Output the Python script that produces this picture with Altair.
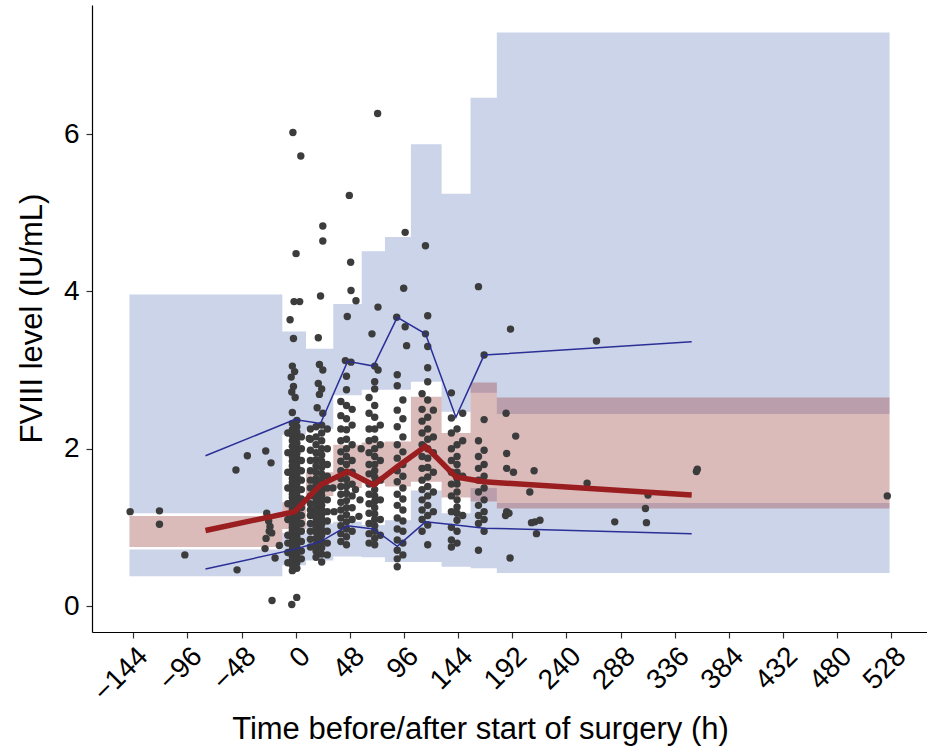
import altair as alt
import pandas as pd

# ---------------- simulated 95% CI bands (per time bin) ----------------
bin_edges = [-147.4, -11.9, 9.1, 33.3, 58.5, 79.1, 102.1, 129.3, 155.0, 178.3, 526.4]
sim_p05_lo = [0.38, 0.52, 0.58, 0.63, 0.62, 0.56, 0.56, 0.50, 0.48, 0.42]
sim_p05_hi = [0.72, 0.93, 1.05, 1.07, 1.03, 1.09, 1.47, 1.18, 1.50, 1.31]
sim_p50_lo = [0.75, 0.98, 1.40, 1.50, 1.56, 1.52, 1.58, 1.38, 1.33, 1.24]
sim_p50_hi = [1.145, 1.32, 1.70, 2.05, 2.08, 2.09, 2.66, 2.20, 2.84, 2.65]
sim_p95_lo = [1.18, 2.18, 2.25, 2.68, 2.75, 2.75, 2.85, 2.47, 2.71, 2.44]
sim_p95_hi = [3.96, 3.49, 3.27, 3.84, 4.51, 4.69, 5.87, 5.24, 6.46, 7.29]

# ---------------- observed percentiles ----------------
obs_time = [-80, -1, 22, 46, 69, 90, 115, 142, 167, 351]
obs_p05 = [0.47, 0.72, 0.82, 1.02, 0.98, 0.76, 1.07, 1.03, 0.99, 0.92]
obs_p50 = [0.96, 1.20, 1.54, 1.71, 1.54, 1.77, 2.03, 1.64, 1.58, 1.41]
obs_p95 = [1.91, 2.37, 2.32, 3.11, 3.05, 3.67, 3.46, 2.40, 3.19, 3.36]

# ---------------- observed data points ----------------
pts_scatter = [
    (-146.8, 1.20), (-120.8, 1.21), (-120.8, 1.04), (-98.3, 0.65), (-53, 1.73), (-52, 0.46),
    (-42.9, 1.91), (-26.6, 1.97), (-21.9, 1.82), (-25.7, 1.18), (-22.8, 1.01), (-21.3, 0.93),
    (-26.3, 0.86), (-27.2, 0.73), (-18.3, 0.61), (-14.5, 0.77), (-24, 1.08), (-23.5, 0.95),
    (-21, 0.07), (-3.5, 0.02), (0.9, 0.11),
    (-2.5, 6.02), (4.5, 5.72), (0.3, 4.48), (-1.5, 3.87), (3.5, 3.87), (-5, 3.64), (-2, 3.40),
    (-3, 3.05), (-1, 2.98), (-4, 2.91), (-2, 2.79), (-3.5, 2.72), (-0.5, 2.65), (-3, 2.46),
    (24, 4.83), (24, 4.64), (22, 3.94), (20, 3.41), (21, 3.07), (24, 3.00), (20, 2.83),
    (23, 2.76), (21, 2.69), (19, 2.52), (24, 2.45), (12, 2.13),
    (47.5, 5.22), (48.7, 4.37), (49, 4.01), (53.4, 3.88), (45.7, 3.68), (49, 3.10), (44, 3.12),
    (56, 1.14), (53, 1.48), (57, 1.35), (33, 1.50), (34, 1.20), (58, 2.00),
    (72.6, 6.26), (72.9, 3.80), (67.6, 3.46), (70, 3.05), (73, 3.00),
    (97, 4.75), (95.7, 4.04), (97, 3.55), (98.3, 3.31), (89.5, 3.67),
    (115, 4.58), (117, 3.69), (115, 3.46),
    (162, 4.06),
    (190.4, 3.52), (186.5, 2.45), (195, 2.16), (187, 1.94), (187, 1.75), (193, 1.70),
    (211.3, 1.72), (207.5, 1.45), (187, 1.20), (186, 1.15), (189, 1.18), (212, 1.07),
    (216.5, 1.09), (209, 1.06), (213.4, 0.92), (190, 0.61), (266.6, 3.37), (258.3, 1.56),
    (282.8, 1.07), (310, 1.24), (310.9, 1.06), (312.3, 1.41), (355.2, 1.71), (356, 1.74),
    (524.4, 1.40),
]

col_times = [-7, -3, 1, 5, 13, 18, 23, 28, 40, 45, 50, 65, 70, 75, 90, 95, 112, 117, 122,
             138, 143, 148, 162, 167]
col_values = [
    [0.55, 0.68, 0.80, 0.90, 1.10, 1.30, 1.50, 1.70, 1.95, 2.20],
    [0.45, 0.52, 0.58, 0.63, 0.68, 0.72, 0.77, 0.82, 0.87, 0.92, 0.96, 1.00, 1.04, 1.08, 1.12,
     1.16, 1.20, 1.24, 1.28, 1.33, 1.38, 1.42, 1.47, 1.52, 1.57, 1.62, 1.67, 1.72, 1.78, 1.84,
     1.90, 1.96, 2.03, 2.10, 2.17, 2.24, 2.32],
    [0.48, 0.55, 0.61, 0.66, 0.70, 0.75, 0.80, 0.85, 0.89, 0.94, 0.98, 1.02, 1.06, 1.10, 1.14,
     1.18, 1.22, 1.26, 1.30, 1.35, 1.40, 1.45, 1.50, 1.55, 1.60, 1.65, 1.70, 1.76, 1.82, 1.88,
     1.94, 2.00, 2.07, 2.14, 2.21, 2.28, 2.36],
    [0.60, 0.70, 0.82, 0.95, 1.05, 1.15, 1.25, 1.36, 1.48, 1.60, 1.72, 1.85, 2.00, 2.15],
    [0.75, 0.85, 0.95, 1.05, 1.15, 1.22, 1.30, 1.40, 1.50, 1.60, 1.72, 1.85, 1.98, 2.12, 2.25],
    [0.62, 0.70, 0.78, 0.86, 0.94, 1.00, 1.06, 1.12, 1.18, 1.24, 1.30, 1.36, 1.42, 1.48, 1.55,
     1.62, 1.70, 1.78, 1.86, 1.95, 2.05, 2.15, 2.28],
    [0.56, 0.66, 0.74, 0.82, 0.90, 0.97, 1.04, 1.10, 1.16, 1.22, 1.28, 1.34, 1.40, 1.46, 1.53,
     1.60, 1.68, 1.76, 1.84, 1.92, 2.00, 2.10, 2.20, 2.30],
    [0.65, 0.80, 0.95, 1.08, 1.20, 1.35, 1.50, 1.65, 1.80, 2.00, 2.25],
    [0.82, 0.92, 1.02, 1.12, 1.22, 1.32, 1.42, 1.52, 1.62, 1.72, 1.84, 1.96, 2.10, 2.25, 2.42, 2.60],
    [0.78, 0.88, 0.98, 1.07, 1.16, 1.25, 1.34, 1.43, 1.52, 1.61, 1.70, 1.80, 1.90, 2.00, 2.12,
     2.24, 2.38, 2.55, 2.75, 2.92],
    [0.95, 1.10, 1.25, 1.40, 1.55, 1.70, 1.85, 2.05, 2.30, 2.50],
    [0.80, 0.92, 1.05, 1.18, 1.30, 1.42, 1.55, 1.68, 1.80, 1.95, 2.10, 2.25, 2.45, 2.65],
    [0.78, 0.86, 0.95, 1.02, 1.10, 1.17, 1.25, 1.33, 1.40, 1.48, 1.56, 1.64, 1.72, 1.80, 1.90,
     2.00, 2.12, 2.25, 2.40, 2.55, 2.76, 2.85],
    [0.90, 1.10, 1.35, 1.60, 1.85, 2.05, 2.30],
    [0.50, 0.60, 0.71, 0.84, 0.98, 1.12, 1.28, 1.42, 1.58, 1.72, 1.88, 2.05, 2.28, 2.49, 2.80, 2.94],
    [0.65, 0.80, 0.95, 1.08, 1.22, 1.36, 1.50, 1.65, 1.80, 1.96, 2.15, 2.38, 2.62],
    [0.95, 1.10, 1.22, 1.35, 1.48, 1.60, 1.75, 1.90, 2.05, 2.20, 2.35, 2.50, 2.70],
    [0.78, 1.03, 1.15, 1.28, 1.40, 1.52, 1.64, 1.76, 1.88, 2.00, 2.12, 2.25, 2.40, 2.62, 2.85,
     3.03, 3.30],
    [1.20, 1.45, 1.70, 1.95, 2.15, 2.49],
    [0.75, 0.84, 1.00, 1.20, 1.40, 1.55, 1.70, 1.85, 2.00, 2.20, 2.39, 2.71],
    [0.80, 0.95, 1.09, 1.18, 1.26, 1.35, 1.45, 1.55, 1.62, 1.70, 1.80, 1.90, 2.05, 2.25],
    [1.15, 1.65, 2.10, 2.45],
    [0.71, 1.05, 1.15, 1.28, 1.45, 1.60, 1.75, 1.90, 2.10],
    [0.95, 1.10, 1.20, 1.35, 1.50, 1.65, 1.80, 1.98, 2.37, 3.19],
]

x_ticks = [-144, -96, -48, 0, 48, 96, 144, 192, 240, 288, 336, 384, 432, 480, 528]
y_ticks = [0, 2, 4, 6]

# ---------------- build tables ----------------
def band_rows(lo, hi):
    rows = [{"t": bin_edges[i], "lo": lo[i], "hi": hi[i]} for i in range(len(lo))]
    rows.append({"t": bin_edges[-1], "lo": lo[-1], "hi": hi[-1]})
    return pd.DataFrame(rows)

pts = list(pts_scatter)
for t, vals in zip(col_times, col_values):
    pts += [(t, v) for v in vals]
pts_df = pd.DataFrame(pts, columns=["t", "v"])

obs_df = pd.DataFrame({"t": obs_time, "p05": obs_p05, "p50": obs_p50, "p95": obs_p95})

FONT = "Liberation Sans"
YT = "FVIII level (IU/mL)"
XT = "Time before/after start of surgery (h)"

xscale = alt.Scale(domain=[-180.6, 559.6], nice=False, zero=False)
yscale = alt.Scale(domain=[-0.33, 7.64], nice=False, zero=False)
xaxis = alt.Axis(values=x_ticks, title=XT, labelAngle=-45, labelAlign="right",
                 labelBaseline="top", labelPadding=4, titleX=388, titleY=106,
                 titleBaseline="alphabetic", titleAlign="center", labelOverlap=False,
                 labelFlush=False)
yaxis = alt.Axis(values=y_ticks, title=YT, titleX=-60, titleY=313, titleAngle=270,
                 titleBaseline="middle", titleAlign="center", labelPadding=7)


def xenc():
    return alt.X("t:Q", scale=xscale, axis=xaxis)


BLUE = "#3355aa"
RED = "#983a3a"


def band_layer(lo, hi, color, op):
    return alt.Chart(band_rows(lo, hi)).mark_area(
        interpolate="step-after", color=color, opacity=op
    ).encode(x=xenc(), y=alt.Y("lo:Q", scale=yscale, axis=yaxis), y2="hi:Q")


layers = [
    band_layer(sim_p05_lo, sim_p05_hi, BLUE, 0.25),
    band_layer(sim_p95_lo, sim_p95_hi, BLUE, 0.25),
    band_layer(sim_p50_lo, sim_p50_hi, RED, 0.35),
    alt.Chart(pts_df).mark_circle(size=55, color="#3c3c3c", opacity=1).encode(
        x=xenc(), y=alt.Y("v:Q", scale=yscale, axis=yaxis)),
    alt.Chart(obs_df).mark_line(color="#2a2f96", strokeWidth=1.5).encode(
        x=xenc(), y=alt.Y("p05:Q", scale=yscale, axis=yaxis)),
    alt.Chart(obs_df).mark_line(color="#2a2f96", strokeWidth=1.5).encode(
        x=xenc(), y=alt.Y("p95:Q", scale=yscale, axis=yaxis)),
    alt.Chart(obs_df).mark_line(color="#9a1d20", strokeWidth=5.5).encode(
        x=xenc(), y=alt.Y("p50:Q", scale=yscale, axis=yaxis)),
]

chart = alt.layer(*layers).properties(
    width=835, height=627,
    background="white",
    autosize=alt.AutoSizeParams(type="none"),
    padding={"left": 92, "top": 5, "right": 0, "bottom": 120},
).configure_view(stroke=None).configure_axis(
    grid=False, domainColor="black", domainWidth=1.2, tickColor="#333333", tickSize=6,
    tickWidth=1.2, labelFont=FONT, labelFontSize=28, labelColor="black", titleFont=FONT,
    titleFontSize=31, titleFontWeight="normal", titleColor="black",
)

chart.save("out.html", embed_options={"renderer": "svg", "actions": False})
